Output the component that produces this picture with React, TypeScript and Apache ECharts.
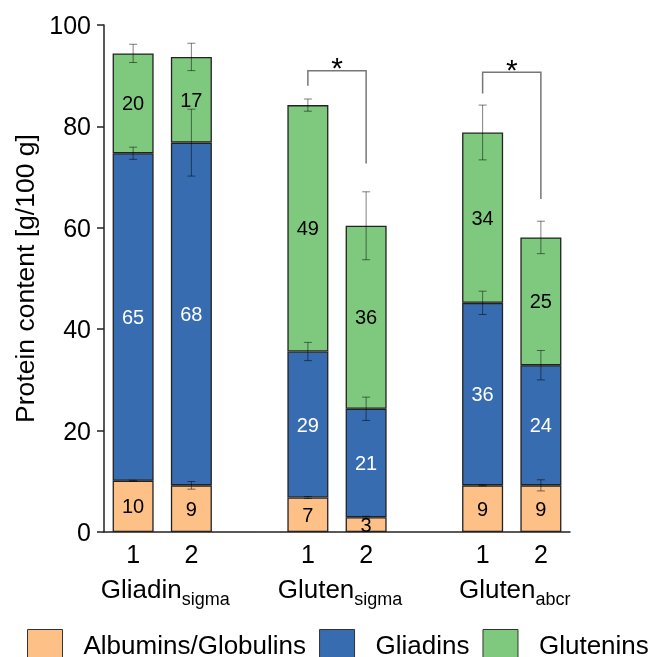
import React, { useEffect, useRef } from "react";
import * as echarts from "echarts";

const slotLabels = ["1", "2", "", "1", "2", "", "1", "2"];
const barSlots = [0, 1, 3, 4, 6, 7];
const groupSlots = [[0, 1], [3, 4], [6, 7]];
const groupNames = ["Gliadin", "Gluten", "Gluten"];
const groupSubs = ["sigma", "sigma", "abcr"];

const albumins = [10.1, 9.2, 6.8, 2.9, 9.2, 9.2];
const gliadins = [64.6, 67.6, 28.8, 21.4, 36.0, 23.7];
const glutenins = [19.7, 16.9, 48.6, 36.1, 33.6, 25.2];

const albuminsErr = [0.1, 0.75, 0.2, 0.2, 0.1, 1.1];
const gliadinsErr = [1.2, 6.6, 1.8, 2.3, 2.3, 2.9];
const gluteninsErr = [1.8, 2.7, 1.2, 6.7, 5.4, 3.2];

// significance brackets: [leftSlot, rightSlot, top, leftEnd, rightEnd]
const brackets = [
  [3, 4, 91.0, 88.0, 72.7],
  [6, 7, 90.7, 86.5, 65.7],
];

const seriesNames = ["Albumins/Globulins", "Gliadins", "Glutenins"];
const colors = ["#fdc086", "#386cb0", "#7fc97f"];
const FONT = "Liberation Sans, Arial, sans-serif";

function toSlots(vals: number[]) {
  const out: (number | string)[] = slotLabels.map(() => "-");
  barSlots.forEach((s, i) => (out[s] = vals[i]));
  return out;
}

export default function App() {
  const ref = useRef<HTMLDivElement>(null);
  useEffect(() => {
    if (!ref.current) return;
    const chart = echarts.init(ref.current, undefined, { renderer: "svg" });
    const values = [albumins, gliadins, glutenins];
    const errs = [albuminsErr, gliadinsErr, gluteninsErr];
    const errData: number[][] = [];
    barSlots.forEach((s, i) => {
      let cum = 0;
      for (let k = 0; k < 3; k++) {
        cum += values[k][i];
        errData.push([s, cum, errs[k][i]]);
      }
    });
    const labelColors = ["#000", "#fff", "#000"];
    const barSeries = values.map((v, k) => ({
      name: seriesNames[k],
      type: "bar",
      stack: "total",
      data: toSlots(v),
      barWidth: 41,
      itemStyle: { color: colors[k], borderColor: "#222", borderWidth: 1.3 },
      label: {
        show: true,
        position: "inside",
        color: labelColors[k],
        fontSize: 20,
        fontFamily: FONT,
        formatter: (p: any) => String(Math.round(p.value)),
      },
      emphasis: { disabled: true },
    }));
    chart.setOption({
      animation: false,
      textStyle: { fontFamily: FONT },
      grid: { left: 104, right: 86, top: 25, bottom: 125, containLabel: false },
      legend: {
        data: seriesNames,
        left: 27,
        top: 629,
        width: 1000,
        padding: 0,
        icon: "rect",
        itemWidth: 35,
        itemHeight: 30,
        itemGap: 13,
        itemStyle: { borderColor: "#333", borderWidth: 1 },
        textStyle: { fontSize: 26, color: "#000", fontFamily: FONT, padding: [0, 0, 0, 16] },
        selectedMode: false,
      },
      xAxis: {
        type: "category",
        data: slotLabels,
        axisLine: { show: true, lineStyle: { color: "#222", width: 1.5 } },
        axisTick: { show: false },
        axisLabel: { fontSize: 25, color: "#000", margin: 9, interval: 0, fontFamily: FONT },
      },
      yAxis: {
        type: "value",
        min: 0,
        max: 100,
        interval: 20,
        name: "Protein content [g/100 g]",
        nameLocation: "middle",
        nameGap: 61,
        nameTextStyle: { fontSize: 26.5, color: "#000", fontFamily: FONT },
        axisLine: { show: true, lineStyle: { color: "#222", width: 1.5 } },
        axisTick: { show: true, length: 7, lineStyle: { color: "#222", width: 1.5 } },
        axisLabel: { fontSize: 25, color: "#000", margin: 13, fontFamily: FONT },
        splitLine: { show: false },
      },
      series: [
        ...barSeries,
        {
          type: "custom",
          name: "err",
          data: errData,
          dimensions: ["x", "y", "e"],
          encode: { x: 0, y: 1 },
          z: 10,
          silent: true,
          renderItem: (params: any, api: any) => {
            const x = api.value(0);
            const y = api.value(1);
            const e = api.value(2);
            const hi = api.coord([x, y + e]);
            const lo = api.coord([x, y - e]);
            const w = 4;
            const st = { stroke: "#000", lineWidth: 1, opacity: 0.5 };
            return {
              type: "group",
              children: [
                { type: "line", shape: { x1: hi[0], y1: hi[1], x2: lo[0], y2: lo[1] }, style: st },
                { type: "line", shape: { x1: hi[0] - w, y1: hi[1], x2: hi[0] + w, y2: hi[1] }, style: st },
                { type: "line", shape: { x1: lo[0] - w, y1: lo[1], x2: lo[0] + w, y2: lo[1] }, style: st },
              ],
            };
          },
        },
        {
          type: "custom",
          name: "sig",
          data: brackets,
          encode: { x: 0, y: 2 },
          z: 10,
          silent: true,
          renderItem: (params: any, api: any) => {
            const x1 = api.value(0);
            const x2 = api.value(1);
            const top = api.value(2);
            const a = api.coord([x1, api.value(3)]);
            const b = api.coord([x1, top]);
            const c = api.coord([x2, top]);
            const d = api.coord([x2, api.value(4)]);
            return {
              type: "group",
              children: [
                {
                  type: "polyline",
                  shape: { points: [a, b, c, d] },
                  style: { stroke: "#777", lineWidth: 1.5, fill: "none" },
                },
                {
                  type: "text",
                  x: (b[0] + c[0]) / 2,
                  y: b[1] + 12,
                  style: {
                    text: "*",
                    fontSize: 30,
                    fontFamily: FONT,
                    fill: "#000",
                    align: "center",
                    verticalAlign: "bottom",
                  },
                },
              ],
            };
          },
        },
      ],
    });
    const baseY = chart.convertToPixel({ yAxisIndex: 0 }, 0) as number;
    const graphic = groupSlots.map((g, i) => {
      const x0 = chart.convertToPixel({ xAxisIndex: 0 }, g[0]) as number;
      const x1 = chart.convertToPixel({ xAxisIndex: 0 }, g[1]) as number;
      return {
        type: "text",
        x: (x0 + x1) / 2 + 3,
        y: baseY + 42,
        style: {
          text: `{b|${groupNames[i]}}{s|${groupSubs[i]}}`,
          align: "center",
          verticalAlign: "top",
          rich: {
            b: { fontSize: 26, fill: "#000", fontFamily: FONT, verticalAlign: "bottom", lineHeight: 28 },
            s: { fontSize: 18, fill: "#000", fontFamily: FONT, verticalAlign: "bottom", height: 6 },
          },
        },
      };
    });
    chart.setOption({ graphic });
    return () => chart.dispose();
  }, []);
  return (
    <div
      ref={ref}
      style={{ position: "fixed", left: 0, top: 0, width: 656, height: 657 }}
    />
  );
}
